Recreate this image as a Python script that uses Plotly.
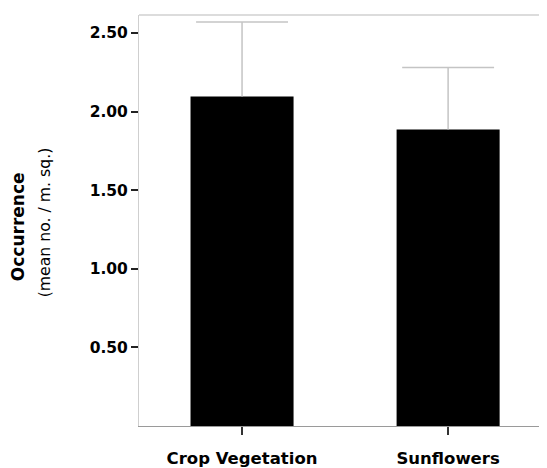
import plotly.graph_objects as go

categories = ["Crop Vegetation", "Sunflowers"]
means = [2.095, 1.885]
errors_plus = [0.475, 0.395]
ytick_vals = [0.5, 1.0, 1.5, 2.0, 2.5]
ytick_text = ["0.50", "1.00", "1.50", "2.00", "2.50"]

xpos = list(range(len(categories)))
cap_half = 0.223

# error-bar geometry derived from the data arrays (upper whisker only)
ex, ey = [], []
for i, m, e in zip(xpos, means, errors_plus):
    ex += [i, i, None, i - cap_half, i + cap_half, None]
    ey += [m, m + e, None, m + e, m + e, None]

fig = go.Figure()
fig.add_trace(go.Bar(
    x=xpos,
    y=means,
    width=0.5,
    marker=dict(color="black", line=dict(width=0)),
    showlegend=False,
    hoverinfo="skip",
))
fig.add_trace(go.Scatter(
    x=ex, y=ey, mode="lines",
    line=dict(color="#c4c4c4", width=1.5),
    showlegend=False, hoverinfo="skip",
))

fig.update_layout(
    width=539, height=460,
    margin=dict(l=131, r=1, t=7, b=42),
    paper_bgcolor="white",
    plot_bgcolor="white",
    font=dict(family="DejaVu Sans", color="black"),
    xaxis=dict(
        range=[-0.5, 1.475],
        tickvals=xpos, ticktext=categories,
        showline=True, linecolor="#9a9a9a", linewidth=1,
        ticks="outside", ticklen=8, tickcolor="#333", tickwidth=1.5,
        tickfont=dict(family="DejaVu Sans", size=16.5, color="black", weight="bold"),
        ticklabelstandoff=9,
        showgrid=False, zeroline=False, fixedrange=True,
    ),
    yaxis=dict(
        range=[0, 2.614],
        tickvals=ytick_vals, ticktext=ytick_text,
        showline=True, linecolor="#cfcfcf", linewidth=1,
        ticks="outside", ticklen=7, tickcolor="#222", tickwidth=1.5,
        tickfont=dict(family="DejaVu Sans", size=15.5, color="black", weight="bold"),
        showgrid=False, zeroline=False, fixedrange=True,
    ),
    shapes=[dict(type="line", xref="paper", yref="paper", x0=0, x1=1, y0=1, y1=1,
                 line=dict(color="#d0d0d0", width=1.5))],
    annotations=[
        dict(text="<b>Occurrence</b>", xref="paper", yref="paper", x=-0.297, y=0.484,
             xanchor="center", yanchor="middle", textangle=-90, showarrow=False,
             font=dict(family="DejaVu Sans", size=17, color="black")),
        dict(text="(mean no. / m. sq.)", xref="paper", yref="paper", x=-0.233, y=0.496,
             xanchor="center", yanchor="middle", textangle=-90, showarrow=False,
             font=dict(family="DejaVu Sans", size=15.7, color="black")),
    ],
)

fig.write_html("out.html")
